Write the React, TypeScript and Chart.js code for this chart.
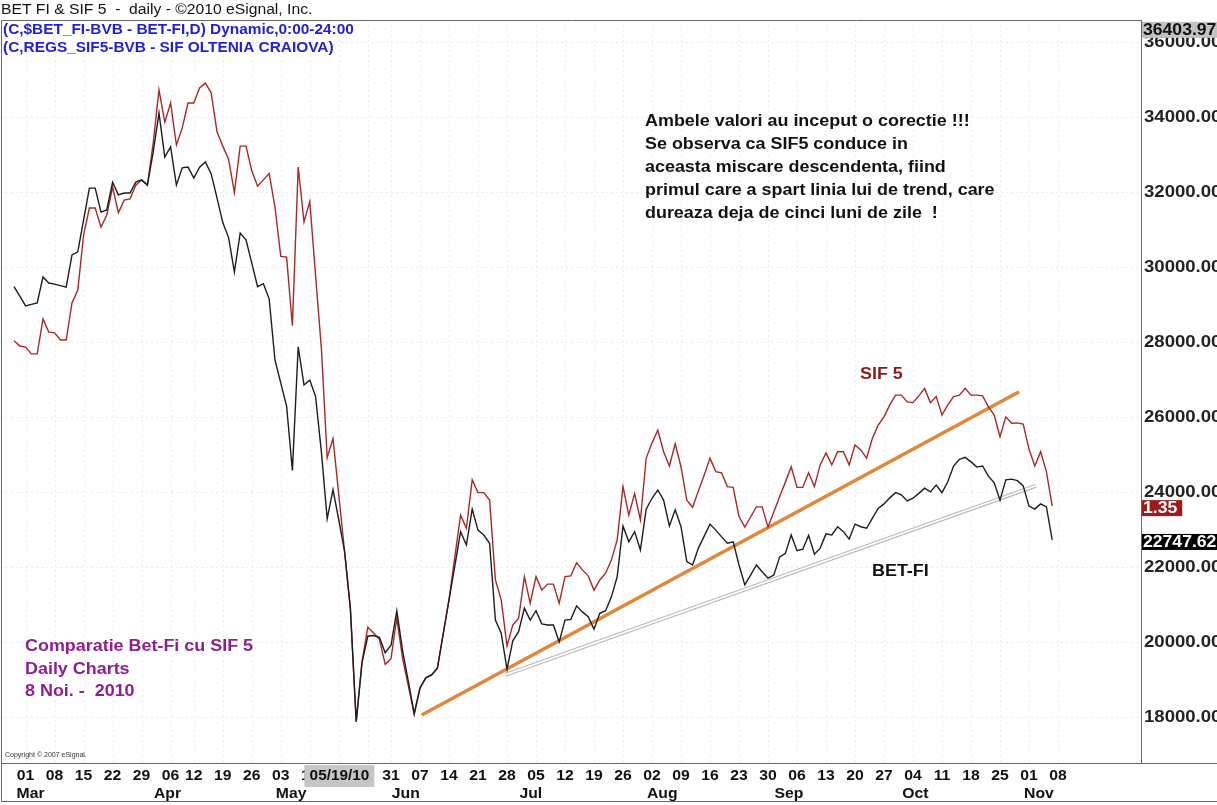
import React, { useEffect, useRef } from 'react';
import { Chart, registerables } from 'chart.js';

Chart.register(...registerables);

// ---------- categories (trading days) ----------
const START_DATE = '2010-02-25';
const HOLIDAYS = ['2010-04-05', '2010-05-24'];
const AXIS_DAY_COUNT = 181; // through 2010-11-08
const MONTH_NAMES = ['Jan', 'Feb', 'Mar', 'Apr', 'May', 'Jun', 'Jul', 'Aug', 'Sep', 'Oct', 'Nov', 'Dec'];

// ---------- series (daily closes, SIF5 shown rescaled onto the BET-FI axis) ----------
const betFi = [
  29500, 29250, 28990, 29030, 29070, 29760, 29600, 29570, 29530, 29490,
  30350, 30430, 31280, 32130, 32130, 31490, 31550, 32290, 31950, 32000,
  32000, 32290, 32350, 32210, 33090, 34130, 32960, 33230, 32210, 32670,
  32690, 32400, 32690, 32830, 32510, 31870, 31210, 30810, 29890, 30930,
  30750, 30130, 29500, 29580, 29170, 27540, 26930, 26320, 24600, 27900,
  26880, 27010, 26570, 25090, 23310, 24090, 23280, 22440, 20910, 17900,
  19480, 20180, 20200, 20150, 19740, 19940, 20860, 19790, 18970, 18110,
  18800, 19070, 19150, 19330, 20240, 21150, 22050, 22970, 22610, 23570,
  23010, 22880, 22660, 20610, 20260, 19300, 20060, 20300, 20930, 20610,
  20860, 20510, 20480, 20480, 20030, 20610, 20630, 20990, 20830, 20700,
  20370, 20790, 20860, 21230, 21770, 23120, 22700, 22970, 22480, 23570,
  23860, 24080, 23810, 23120, 23550, 23100, 22170, 22080, 22530, 22850,
  23170, 23010, 22830, 22660, 22700, 22080, 21550, 21810, 22080, 21900,
  21730, 21810, 22290, 22390, 22880, 22460, 22500, 22870, 22370, 22530,
  22910, 22880, 23100, 22970, 22770, 23170, 23100, 23060, 23330, 23590,
  23710, 23870, 24010, 23950, 23790, 23860, 23990, 24130, 24030, 24210,
  24010, 24300, 24720, 24900, 24950, 24830, 24690, 24720, 24450, 24270,
  23810, 24350, 24370, 24330, 24190, 23650, 23570, 23710, 23630, 22747.62,
];

const sif5 = [
  28060, 27920, 27890, 27710, 27710, 28640, 28290, 28270, 28080, 28080,
  29070, 29410, 30880, 31600, 31600, 31090, 31410, 32160, 31470, 31810,
  31840, 32210, 32350, 32210, 33330, 34750, 33890, 34400, 33280, 33730,
  34400, 34400, 34800, 34930, 34670, 33630, 33250, 32900, 32010, 33250,
  33250, 32590, 32180, 32350, 32520, 31620, 30310, 30290, 28460, 32690,
  31230, 31770, 29790, 27850, 24940, 25450, 23950, 22440, 20910, 17900,
  19490, 20420, 20270, 20100, 19430, 19580, 20660, 19580, 18850, 18110,
  18800, 19070, 19150, 19330, 20240, 21150, 22290, 23410, 23060, 24350,
  24010, 24010, 23810, 21680, 21150, 19920, 20480, 20660, 21770, 21060,
  21770, 21410, 21570, 21570, 21060, 21770, 21790, 22140, 21950, 21790,
  21410, 21680, 21860, 22210, 22750, 24170, 23410, 23990, 23280, 24930,
  25330, 25680, 25100, 24720, 25310, 24700, 23810, 23620, 24050, 24480,
  24930, 24570, 24540, 24170, 24150, 23370, 23090, 23360, 23630, 23630,
  23090, 23490, 23900, 24290, 24700, 24150, 24150, 24540, 24170, 24750,
  25070, 24750, 25100, 25100, 24750, 25280, 25150, 24930, 25460, 25810,
  26030, 26350, 26610, 26610, 26430, 26410, 26590, 26790, 26410, 26570,
  26080, 26350, 26570, 26610, 26790, 26610, 26610, 26590, 26300, 26080,
  25500, 26030, 25860, 25870, 25840, 25170, 24720, 25100, 24570, 23650,
];

// trend lines: [day index, value]
const sifTrend = [[70.3, 18080], [173.3, 26700]];
const betTrend = [[84.7, 19150], [176.2, 24190]];

const yTicks = [18000, 20000, 22000, 24000, 26000, 28000, 30000, 32000, 34000, 36000];
const Y_MIN = 16800;
const Y_MAX = 36613;
const X_MIN = -2.24;
const X_MAX = 194.31;

const SCALE_TOP_LABEL = 36403.97;
const SIF5_LAST_PRICE = '1.35';
const CURSOR_DATE = '05/19/10';
const CURSOR_DAY_INDEX = 58;

const headerTitle = 'BET FI & SIF 5  -  daily - \u00A92010 eSignal, Inc.';
const headerSymbols = ['(C,$BET_FI-BVB - BET-FI,D) Dynamic,0:00-24:00', '(C,REGS_SIF5-BVB - SIF OLTENIA CRAIOVA)'];
const commentLines = [
  'Ambele valori au inceput o corectie !!!',
  'Se observa ca SIF5 conduce in',
  'aceasta miscare descendenta, fiind',
  'primul care a spart linia lui de trend, care',
  'dureaza deja de cinci luni de zile  !',
];
const captionLines = ['Comparatie Bet-Fi cu SIF 5', 'Daily Charts', '8 Noi. -  2010'];
const copyrightText = 'Copyright \u00A9 2007 eSignal.';

// ---------- helpers ----------
function buildTradingDays(start: string, count: number): Date[] {
  const out: Date[] = [];
  const d = new Date(start + 'T00:00:00Z');
  while (out.length < count) {
    const dow = d.getUTCDay();
    const iso = d.toISOString().slice(0, 10);
    if (dow !== 0 && dow !== 6 && !HOLIDAYS.includes(iso)) out.push(new Date(d.getTime()));
    d.setUTCDate(d.getUTCDate() + 1);
  }
  return out;
}

const FONT = "'Liberation Sans', Arial, Helvetica, sans-serif";

function drawText(
  ctx: CanvasRenderingContext2D,
  s: string,
  x: number,
  y: number,
  font: string,
  color: string,
  align: 'left' | 'center' | 'right' = 'left',
  sx = 1.12,
) {
  ctx.save();
  ctx.font = font;
  ctx.fillStyle = color;
  ctx.textBaseline = 'middle';
  ctx.textAlign = 'left';
  const w = ctx.measureText(s).width * sx;
  let left = x;
  if (align === 'center') left = x - w / 2;
  if (align === 'right') left = x - w;
  ctx.translate(left, y);
  ctx.scale(sx, 1);
  ctx.fillText(s, 0, 0);
  ctx.restore();
}

export default function App() {
  const canvasRef = useRef<HTMLCanvasElement | null>(null);

  useEffect(() => {
    const canvas = canvasRef.current;
    if (!canvas) return;
    const days = buildTradingDays(START_DATE, AXIS_DAY_COUNT);
    const weekStarts: number[] = [];
    const monthStarts: number[] = [];
    days.forEach((d, i) => {
      if (i === 0) return;
      const prev = days[i - 1];
      if (d.getUTCDay() < prev.getUTCDay()) weekStarts.push(i);
      if (d.getUTCMonth() !== prev.getUTCMonth()) monthStarts.push(i);
    });

    const toPts = (arr: number[]) => arr.map((v, i) => ({ x: i, y: v }));
    const toLine = (arr: number[][]) => arr.map(([x, y]) => ({ x, y }));

    const overlay = {
      id: 'overlay',
      beforeDatasetsDraw(chart: any) {
        const { ctx, chartArea } = chart;
        const xs = chart.scales.x;
        ctx.save();
        ctx.strokeStyle = '#ededed';
        ctx.lineWidth = 1;
        ctx.setLineDash([2, 3]);
        weekStarts.forEach((i) => {
          const px = Math.round(xs.getPixelForValue(i)) + 0.5;
          ctx.beginPath();
          ctx.moveTo(px, chartArea.top);
          ctx.lineTo(px, chartArea.bottom);
          ctx.stroke();
        });
        ctx.restore();
      },
      afterDraw(chart: any) {
        const { ctx, chartArea } = chart;
        const xs = chart.scales.x;
        const ys = chart.scales.y;
        const W = chart.width;
        ctx.save();

        // frame
        ctx.strokeStyle = '#666';
        ctx.lineWidth = 1;
        ctx.beginPath();
        ctx.moveTo(1.5, chartArea.top + 0.5);
        ctx.lineTo(chartArea.right + 0.5, chartArea.top + 0.5);
        ctx.moveTo(chartArea.right + 0.5, chartArea.top + 0.5);
        ctx.lineTo(chartArea.right + 0.5, chartArea.bottom + 0.5);
        ctx.moveTo(1.5, chartArea.top + 0.5);
        ctx.lineTo(1.5, 801.5);
        ctx.moveTo(1.5, chartArea.bottom + 0.5);
        ctx.lineTo(W, chartArea.bottom + 0.5);
        ctx.moveTo(1.5, 801.5);
        ctx.lineTo(W, 801.5);
        ctx.stroke();

        // header
        drawText(ctx, headerTitle, 1, 10, `14px ${FONT}`, '#111', 'left', 1.12);
        headerSymbols.forEach((s, k) => drawText(ctx, s, 3, 30 + k * 18, `bold 14px ${FONT}`, '#1f1fd8', 'left', 1.1));

        // y axis labels
        const lx = chartArea.right + 3;
        yTicks.forEach((v) => {
          drawText(ctx, v.toFixed(2), lx, ys.getPixelForValue(v), `bold 16px ${FONT}`, '#222', 'left', 1.16);
        });

        // badges
        const badge = (label: string, value: number, bg: string, fg: string, wide: boolean) => {
          const cy = ys.getPixelForValue(value) + 2;
          ctx.font = `bold 16px ${FONT}`;
          const w = wide ? W - chartArea.right - 1 : ctx.measureText(label).width * 1.1 + 6;
          ctx.fillStyle = bg;
          ctx.fillRect(chartArea.right + 1, cy - 8, w, 16);
          drawText(ctx, label, chartArea.right + 2, cy + 0.5, `bold 16px ${FONT}`, fg, 'left', 1.1);
        };
        badge(SCALE_TOP_LABEL.toFixed(2), SCALE_TOP_LABEL, '#c2c2c2', '#111', true);
        badge(SIF5_LAST_PRICE, sif5[sif5.length - 1], '#9e1b1b', '#fff', false);
        badge(betFi[betFi.length - 1].toFixed(2), betFi[betFi.length - 1], '#000', '#fff', true);

        // x axis labels
        const dayFont = `bold 15px ${FONT}`;
        const cx = xs.getPixelForValue(CURSOR_DAY_INDEX) - 11;
        const boxLeft = cx - 35;
        const boxRight = cx + 35;
        weekStarts.forEach((i) => {
          const px = xs.getPixelForValue(i);
          if (px > boxLeft + 10 && px < boxRight + 10) return; // hidden under the cursor label
          const s = String(days[i].getUTCDate()).padStart(2, '0');
          drawText(ctx, s, px, 776, dayFont, '#111', 'center', 1.05);
        });
        monthStarts.forEach((i) => {
          const d = days[i];
          const off = i === monthStarts[0] ? -9 : -5;
          drawText(ctx, MONTH_NAMES[d.getUTCMonth()], xs.getPixelForValue(i) + off, 794, dayFont, '#111', 'left', 1.05);
        });

        // cursor date box
        ctx.fillStyle = '#c6c6c6';
        ctx.fillRect(boxLeft, 765, 70, 22);
        drawText(ctx, CURSOR_DATE, cx, 776, dayFont, '#111', 'center', 1.02);

        // copyright
        drawText(ctx, copyrightText, 5, 755, `7px ${FONT}`, '#333', 'left', 1.0);

        // comment block
        commentLines.forEach((s, k) => drawText(ctx, s, 645, 122 + k * 23, `bold 16px ${FONT}`, '#111', 'left', 1.12));

        // series tags
        drawText(ctx, 'SIF 5', 860, 375, `bold 16px ${FONT}`, '#8b1a1a', 'left', 1.12);
        drawText(ctx, 'BET-FI', 872, 572, `bold 16px ${FONT}`, '#111', 'left', 1.12);

        // caption
        captionLines.forEach((s, k) => drawText(ctx, s, 25, 647 + k * 22.5, `bold 16px ${FONT}`, '#8e1f8e', 'left', 1.12));

        ctx.restore();
      },
    };

    const chart = new Chart(canvas, {
      type: 'line',
      data: {
        datasets: [
          { label: 'BET-FI trend', data: toLine(betTrend), borderColor: '#b9b9b9', borderWidth: 4, pointRadius: 0, order: 5 },
          { label: 'BET-FI trend inner', data: toLine(betTrend), borderColor: '#ffffff', borderWidth: 1.6, pointRadius: 0, order: 4 },
          { label: 'SIF 5 trend', data: toLine(sifTrend), borderColor: '#e0873c', borderWidth: 3.5, pointRadius: 0, order: 3 },
          { label: 'SIF 5', data: toPts(sif5), borderColor: '#a82828', borderWidth: 1.4, pointRadius: 0, order: 2 },
          { label: 'BET-FI', data: toPts(betFi), borderColor: '#1c1c1c', borderWidth: 1.4, pointRadius: 0, order: 1 },
        ],
      },
      options: {
        animation: false,
        responsive: false,
        maintainAspectRatio: false,
        layout: { padding: { left: 1, top: 20, right: 0, bottom: 42 } },
        plugins: { legend: { display: false }, tooltip: { enabled: false } },
        elements: { line: { tension: 0 } },
        scales: {
          x: { type: 'linear', display: false, min: X_MIN, max: X_MAX },
          y: {
            type: 'linear',
            position: 'right',
            min: Y_MIN,
            max: Y_MAX,
            afterBuildTicks: (s: any) => {
              s.ticks = yTicks.map((v) => ({ value: v }));
            },
            afterFit: (s: any) => {
              s.width = 76;
            },
            ticks: { display: false },
            grid: { color: '#ededed', drawTicks: false, tickLength: 0 },
            border: { display: false, dash: [2, 3] },
          },
        },
      },
      plugins: [overlay],
    } as any);

    return () => chart.destroy();
  }, []);

  return (
    <div style={{ position: 'absolute', left: 0, top: 0, width: 1217, height: 805, background: '#fff' }}>
      <canvas ref={canvasRef} width={1217} height={805} style={{ display: 'block' }} />
    </div>
  );
}
